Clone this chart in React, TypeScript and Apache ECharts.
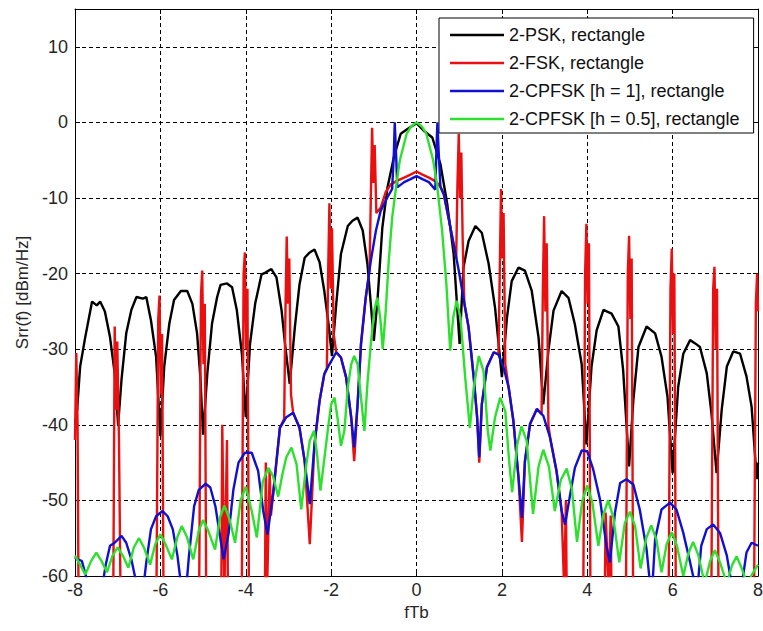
import React, { useEffect, useRef } from "react";
import * as echarts from "echarts";

const X_MIN = -8;
const X_MAX = 8;
const X_STEP = 2;
const Y_MIN = -60;
const Y_MAX = 15;
const Y_STEP = 10;

const seriesNames = [
  "2-PSK, rectangle",
  "2-FSK, rectangle",
  "2-CPFSK [h = 1], rectangle",
  "2-CPFSK [h = 0.5], rectangle",
];
const seriesColors = ["#000000", "#e81010", "#1010d0", "#2ee02e"];

// 2-PSK (black)
const psk: [number, number][] = [
  [-8.0, -40], [-7.95, -38], [-7.88, -32.3], [-7.76, -28.4], [-7.6, -23.7], [-7.49, -24.2], [-7.41, -23.7],
  [-7.3, -25], [-7.18, -28.4], [-7.07, -33.2], [-6.99, -40], [-6.91, -34], [-6.8, -27.9], [-6.68, -24.8],
  [-6.56, -23.1], [-6.41, -23.3], [-6.33, -23.1], [-6.22, -26.2], [-6.1, -31], [-6.0, -41.5], [-5.91, -32.3],
  [-5.79, -26.6], [-5.68, -23.5], [-5.52, -22.3], [-5.37, -22.3], [-5.25, -24], [-5.14, -27.9], [-5.06, -34],
  [-5.0, -41.3], [-4.9, -33.2], [-4.79, -26.6], [-4.67, -23.1], [-4.59, -21.5], [-4.44, -21.3], [-4.32, -21.8],
  [-4.21, -24.8], [-4.09, -30.6], [-4.0, -39], [-3.9, -29.3], [-3.78, -24], [-3.63, -20.1], [-3.55, -19.9],
  [-3.4, -19.4], [-3.28, -20.5], [-3.16, -24.9], [-3.08, -29.3], [-2.97, -34.6], [-2.85, -27.1], [-2.74, -21.4],
  [-2.62, -17.9], [-2.5, -17.2], [-2.39, -16.8], [-2.27, -18.5], [-2.16, -22.3], [-2.06, -26.7], [-1.98, -30.9],
  [-1.88, -24], [-1.77, -17.4], [-1.61, -13.7], [-1.5, -13], [-1.38, -12.6], [-1.26, -14.3], [-1.15, -18.7],
  [-1.07, -24], [-1.0, -28.9], [-0.91, -23.2], [-0.8, -13.9], [-0.68, -8.6], [-0.53, -4.6], [-0.37, -1.5],
  [-0.22, -0.9], [0, -0.1], [0.17, -1.1], [0.37, -2], [0.56, -5.5], [0.72, -10.8], [0.87, -17.4], [1.01, -29.3],
  [1.1, -19.2], [1.22, -15.7], [1.38, -13.7], [1.53, -14.6], [1.69, -18.7], [1.84, -24.5], [2.0, -33.7],
  [2.12, -25.8], [2.23, -21], [2.39, -19.2], [2.54, -19.6], [2.7, -22.3], [2.86, -28.5], [2.97, -37.3],
  [3.09, -30.2], [3.21, -24.9], [3.4, -22.3], [3.56, -23.2], [3.71, -26.7], [3.87, -32], [3.98, -42.6],
  [4.1, -32.3], [4.22, -27.5], [4.38, -24.8], [4.57, -25.3], [4.73, -27], [4.84, -32.7], [4.98, -45.5],
  [5.08, -36.7], [5.2, -29.7], [5.39, -27], [5.59, -27.9], [5.74, -31], [5.88, -36.3], [6.0, -46.4],
  [6.13, -35], [6.25, -30.6], [6.41, -28.8], [6.52, -29.2], [6.64, -29.7], [6.8, -33.2], [6.91, -38.5],
  [7.03, -46.4], [7.15, -38], [7.27, -32.3], [7.42, -30.3], [7.58, -30.6], [7.73, -33.6], [7.85, -37.6],
  [7.97, -47.2], [8.0, -45],
];

// 2-FSK (red)
const fsk: [number, number][] = [
  [-8.0, -42], [-7.97, -30.5], [-7.94, -40], [-7.91, -70],
  [-7.11, -70], [-7.07, -27], [-7.04, -38], [-7.01, -29], [-6.97, -42], [-6.92, -70],
  [-6.1, -70], [-6.05, -26], [-6.02, -22.9], [-5.99, -36], [-5.96, -28], [-5.92, -70],
  [-5.1, -70], [-5.05, -23], [-5.02, -19.6], [-4.99, -32], [-4.96, -24], [-4.92, -70],
  [-4.58, -70], [-4.55, -40], [-4.5, -62], [-4.44, -42], [-4.41, -70],
  [-4.1, -70], [-4.05, -20], [-4.02, -17.2], [-3.99, -30], [-3.96, -22], [-3.92, -70],
  [-3.56, -70], [-3.53, -45], [-3.5, -62], [-3.44, -46], [-3.41, -52],
  [-3.36, -49.2], [-3.2, -40.4], [-3.1, -39.2],
  [-3.07, -25], [-3.04, -15.1], [-3.01, -24], [-2.98, -18], [-2.94, -36],
  [-2.89, -38.4], [-2.74, -40.4], [-2.62, -44.8], [-2.5, -55.8], [-2.39, -42.6], [-2.27, -36.8], [-2.16, -33.3], [-2.1, -32.5],
  [-2.07, -20], [-2.04, -10.7], [-2.01, -22], [-1.98, -14], [-1.94, -28],
  [-1.88, -30.4], [-1.77, -31.1], [-1.65, -33.7], [-1.53, -39], [-1.46, -44.8], [-1.38, -37.3], [-1.3, -29.3], [-1.19, -23.2], [-1.1, -19.5],
  [-1.07, -10], [-1.04, -0.7], [-1.01, -8], [-0.98, -3], [-0.94, -12],
  [-0.84, -11.3], [-0.72, -9.2], [-0.6, -8.2], [-0.45, -7.7], [-0.29, -7.3], [-0.14, -6.9], [0, -6.5],
  [0.14, -6.9], [0.29, -7.3], [0.45, -7.8], [0.56, -8.5], [0.64, -9.5], [0.75, -12.6], [0.87, -16.1], [0.93, -18],
  [0.96, -8], [0.99, -1.5], [1.02, -10], [1.05, -4], [1.08, -15],
  [1.12, -24], [1.22, -27.1], [1.34, -33.7], [1.42, -39], [1.47, -45], [1.53, -37.3], [1.65, -32.4], [1.81, -30.4], [1.92, -30.7],
  [1.95, -20], [1.98, -8.8], [2.01, -18], [2.04, -12], [2.08, -32],
  [2.16, -35.1], [2.27, -39.5], [2.39, -47], [2.47, -55.5], [2.54, -44.8], [2.66, -39.9], [2.82, -37.9], [2.93, -38.6],
  [2.96, -22], [2.99, -12.4], [3.02, -25], [3.05, -16], [3.09, -40],
  [3.13, -41.7], [3.28, -46.1], [3.4, -51.4], [3.46, -62], [3.5, -50], [3.53, -70],
  [3.9, -70], [3.95, -20], [3.98, -13.4], [4.01, -24], [4.04, -16], [4.08, -70],
  [4.4, -70], [4.43, -51.6], [4.5, -62], [4.55, -52], [4.58, -70],
  [4.9, -70], [4.95, -20], [4.98, -15], [5.01, -26], [5.04, -18], [5.08, -70],
  [5.9, -70], [5.95, -22], [5.98, -16.7], [6.01, -28], [6.04, -20], [6.08, -70],
  [6.9, -70], [6.95, -22], [6.98, -19.1], [7.01, -30], [7.04, -22], [7.08, -70],
  [7.9, -70], [7.95, -24], [7.98, -20], [8.0, -25],
];

// 2-CPFSK h = 1 (blue)
const cpfskH1: [number, number][] = [
  [-8.0, -57.5], [-7.95, -57.8], [-7.84, -58], [-7.72, -60.5], [-7.55, -65], [-7.35, -61], [-7.28, -58.5],
  [-7.18, -56], [-7.07, -55.6], [-6.91, -54.7], [-6.8, -55.6], [-6.68, -57.8], [-6.56, -61], [-6.45, -64],
  [-6.33, -58.2], [-6.22, -53.8], [-6.1, -52.1], [-5.95, -51.4], [-5.83, -52.1], [-5.71, -53.8], [-5.6, -57.3],
  [-5.52, -61], [-5.4, -62], [-5.33, -57.3], [-5.21, -50.8], [-5.1, -48.6], [-4.94, -47.8], [-4.83, -48.3],
  [-4.71, -50.8], [-4.59, -55.2], [-4.52, -57.8], [-4.4, -54.3], [-4.29, -48.6], [-4.17, -45], [-4.02, -43.7],
  [-3.86, -43.7], [-3.71, -46.1], [-3.59, -51.4], [-3.49, -54.5], [-3.36, -49.2], [-3.2, -40.4], [-3.05, -39],
  [-2.89, -38.4], [-2.74, -40.4], [-2.62, -44.8], [-2.5, -50.5], [-2.39, -42.6], [-2.27, -36.8], [-2.16, -33.3],
  [-2.04, -32], [-1.88, -30.4], [-1.77, -31.1], [-1.65, -33.7], [-1.53, -39], [-1.46, -43], [-1.38, -37.3],
  [-1.3, -29.3], [-1.19, -23.2], [-1.07, -18.3], [-0.95, -14.3], [-0.84, -11.7], [-0.68, -9.9], [-0.57, -8.8],
  [-0.53, -4], [-0.51, 0], [-0.48, -4], [-0.45, -8.6], [-0.29, -7.9], [-0.14, -7.5], [-0.07, -7.3], [0, -7.1],
  [0.07, -7.3], [0.14, -7.5], [0.29, -7.9], [0.44, -8.9], [0.47, -3], [0.49, 0], [0.52, -4], [0.56, -8.5],
  [0.64, -9.5], [0.75, -12.6], [0.87, -16.1], [0.99, -19.6], [1.1, -23.2], [1.22, -27.1], [1.34, -33.7],
  [1.42, -39], [1.47, -44.3], [1.53, -37.3], [1.65, -32.4], [1.81, -30.4], [1.92, -30.7], [2.04, -32.4],
  [2.16, -35.1], [2.27, -39.5], [2.39, -47], [2.47, -52.3], [2.54, -44.8], [2.66, -39.9], [2.82, -37.9],
  [2.97, -38.8], [3.13, -41.7], [3.28, -46.1], [3.4, -51.4], [3.48, -53.2], [3.6, -49.2], [3.71, -45.7],
  [3.87, -43.4], [4.0, -43.5], [4.14, -45.9], [4.3, -49.9], [4.45, -56], [4.53, -58.2], [4.65, -51.6],
  [4.77, -47.7], [4.92, -47.2], [5.08, -47.9], [5.23, -51.2], [5.39, -56.5], [5.47, -61], [5.53, -61],
  [5.59, -55.1], [5.74, -51.2], [5.94, -50.3], [6.09, -51.2], [6.25, -54.3], [6.41, -58.2], [6.52, -61],
  [6.6, -60.5], [6.67, -56], [6.8, -53.8], [6.95, -53.2], [7.11, -54.3], [7.27, -57.3], [7.38, -61],
  [7.6, -62], [7.73, -56.9], [7.85, -55.6], [8.0, -56],
];

// 2-CPFSK h = 0.5 (green)
const cpfskH05: [number, number][] = [
  [-8.0, -57.3], [-7.9, -58.3], [-7.76, -59.8], [-7.62, -58], [-7.5, -56.9], [-7.38, -58], [-7.25, -59.5],
  [-7.12, -57.3], [-7.0, -56.2], [-6.88, -57.3], [-6.75, -58.9], [-6.62, -56.2], [-6.5, -55], [-6.38, -56.3],
  [-6.24, -58.5], [-6.12, -55.8], [-6.0, -54.5], [-5.88, -55.8], [-5.73, -57.8], [-5.6, -54.8], [-5.5, -53.4],
  [-5.38, -54.8], [-5.23, -57.8], [-5.1, -54], [-5.0, -52.6], [-4.88, -54], [-4.72, -56.5], [-4.6, -52.2],
  [-4.5, -50.7], [-4.38, -52.5], [-4.25, -55.6], [-4.12, -50], [-4.0, -48.2], [-3.86, -51.4], [-3.74, -54.9],
  [-3.6, -47.5], [-3.47, -45.7], [-3.36, -46.8], [-3.24, -49.5], [-3.14, -46.5], [-3.05, -44.3], [-2.93, -43],
  [-2.81, -45.2], [-2.7, -51.2], [-2.58, -45.2], [-2.5, -42.1], [-2.4, -40.8], [-2.33, -43.9], [-2.25, -48.7],
  [-2.17, -45], [-2.08, -40.8], [-2.0, -37.3], [-1.92, -36.4], [-1.84, -39.5], [-1.77, -42.8], [-1.69, -40.8],
  [-1.61, -35.1], [-1.53, -32], [-1.46, -30.9], [-1.38, -32], [-1.3, -36.4], [-1.22, -40.8], [-1.15, -34.6],
  [-1.07, -29.3], [-0.99, -24.9], [-0.92, -23.2], [-0.85, -25.8], [-0.79, -30], [-0.72, -24.9], [-0.65, -18.3],
  [-0.57, -12.6], [-0.45, -7.3], [-0.39, -5], [-0.23, -1.5], [-0.12, -0.5], [0, 0], [0.12, -0.5], [0.23, -1.5],
  [0.39, -5], [0.48, -8.2], [0.6, -14.3], [0.7, -21.4], [0.79, -30.2], [0.86, -25.8], [0.94, -23.6],
  [1.03, -25.8], [1.14, -33.7], [1.25, -40.4], [1.34, -35.1], [1.46, -30.9], [1.57, -32.9], [1.67, -40.8],
  [1.73, -43.4], [1.84, -39], [1.96, -36.4], [2.08, -38.2], [2.17, -44.8], [2.24, -48.9], [2.36, -42.6],
  [2.46, -40.2], [2.58, -42.1], [2.73, -51.8], [2.86, -45.5], [2.97, -43.3], [3.1, -45.5], [3.24, -51.4],
  [3.38, -47.3], [3.52, -45.8], [3.64, -48.5], [3.76, -55.5], [3.88, -50.2], [4.0, -48], [4.12, -50.3],
  [4.26, -56], [4.38, -51.8], [4.49, -50], [4.61, -52.2], [4.75, -58.2], [4.88, -53], [5.0, -51.5],
  [5.12, -53.4], [5.25, -59], [5.38, -55], [5.5, -53.3], [5.62, -55.2], [5.74, -59.5], [5.86, -55.8],
  [5.98, -54.2], [6.1, -56], [6.25, -60], [6.37, -57], [6.48, -55.5], [6.6, -57.2], [6.75, -61],
  [6.88, -58], [6.99, -56.6], [7.11, -58.2], [7.27, -61], [7.39, -58.6], [7.5, -57.4], [7.62, -59],
  [7.74, -61], [7.88, -59.6], [8.0, -58.5],
];

const dataSets = [psk, fsk, cpfskH1, cpfskH05];

export default function App() {
  const ref = useRef<HTMLDivElement>(null);

  useEffect(() => {
    if (!ref.current) return;
    const chart = echarts.init(ref.current, null, { renderer: "svg" });
    const font = "Liberation Sans";
    const labelColor = "#262626";
    const gridLine = { show: true, lineStyle: { color: "#000", type: [4, 3], width: 1 } };
    const axisLine = { show: true, onZero: false, lineStyle: { color: "#000", width: 1 } };
    const axisTick = { show: true, inside: true, length: 5, lineStyle: { color: "#000", width: 1 } };

    chart.setOption({
      animation: false,
      backgroundColor: "#ffffff",
      textStyle: { fontFamily: font },
      grid: { left: 75, right: 5, top: 9, bottom: 55, containLabel: false, outerBoundsMode: "none" },
      legend: {
        orient: "vertical",
        left: 439,
        top: 18,
        padding: [8, 14, 5, 11],
        itemGap: 10,
        itemWidth: 54,
        itemHeight: 2.5,
        icon: "rect",
        backgroundColor: "#ffffff",
        borderColor: "#000000",
        borderWidth: 1,
        borderRadius: 0,
        selectedMode: false,
        textStyle: { fontSize: 18, color: "#111", fontFamily: font, lineHeight: 18 },
        data: seriesNames,
      },
      xAxis: [
        {
          type: "value",
          min: X_MIN,
          max: X_MAX,
          interval: X_STEP,
          position: "bottom",
          name: "fTb",
          nameLocation: "middle",
          nameGap: 27,
          nameTextStyle: { fontSize: 17, color: labelColor, fontFamily: font },
          axisLine,
          axisTick,
          axisLabel: { fontSize: 18, color: labelColor, margin: 5, fontFamily: font },
          splitLine: gridLine,
        },
        {
          type: "value",
          min: X_MIN,
          max: X_MAX,
          interval: X_STEP,
          position: "top",
          axisLine,
          axisTick,
          axisLabel: { show: false },
          splitLine: { show: false },
        },
      ],
      yAxis: [
        {
          type: "value",
          min: Y_MIN,
          max: Y_MAX,
          interval: Y_STEP,
          position: "left",
          name: "Srr(f) [dBm/Hz]",
          nameLocation: "middle",
          nameGap: 44,
          nameTextStyle: { fontSize: 17, color: labelColor, fontFamily: font },
          axisLine,
          axisTick,
          axisLabel: {
            fontSize: 18,
            color: labelColor,
            margin: 7,
            fontFamily: font,
            formatter: (v: number) => (v > 10 ? "" : String(v)),
          },
          splitLine: gridLine,
        },
        {
          type: "value",
          min: Y_MIN,
          max: Y_MAX,
          interval: Y_STEP,
          position: "right",
          axisLine,
          axisTick,
          axisLabel: { show: false },
          splitLine: { show: false },
        },
      ],
      series: dataSets.map((d, i) => ({
        type: "line",
        name: seriesNames[i],
        data: d,
        xAxisIndex: 0,
        yAxisIndex: 0,
        symbol: "none",
        showSymbol: false,
        clip: true,
        z: 2 + i,
        lineStyle: { color: seriesColors[i], width: 2.4 },
        itemStyle: { color: seriesColors[i] },
        emphasis: { disabled: true },
      })),
    });

    return () => chart.dispose();
  }, []);

  return (
    <div
      ref={ref}
      style={{ position: "fixed", left: 0, top: 0, width: 763, height: 631, background: "#fff" }}
    />
  );
}
